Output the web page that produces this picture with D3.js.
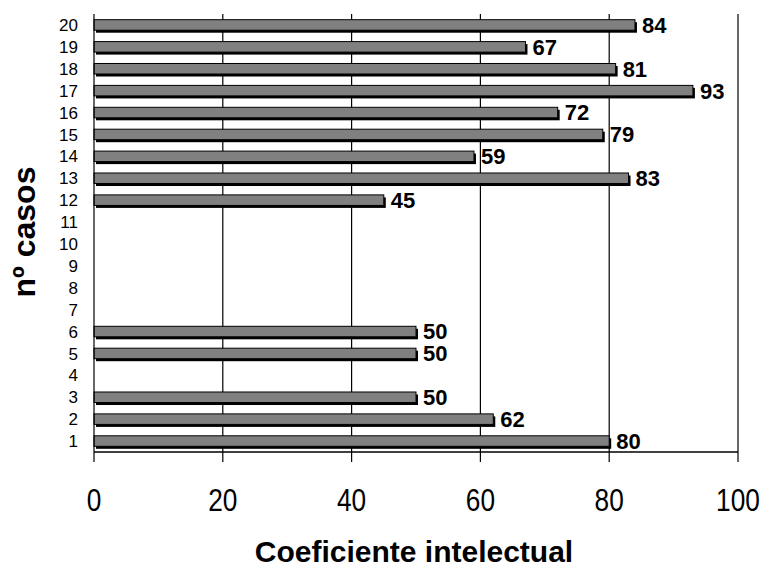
<!DOCTYPE html>
<html><head><meta charset="utf-8">
<script src="https://cdn.jsdelivr.net/npm/d3@7"></script>
<style>body{margin:0;background:#fff}svg{display:block}</style>
</head><body>
<svg id="c" width="765" height="567"></svg>
<script>
const categories = ["1","2","3","4","5","6","7","8","9","10","11","12","13","14","15","16","17","18","19","20"];
const values = [80,62,50,null,50,50,null,null,null,null,null,45,83,59,79,72,93,81,67,84];
const xTicks = [0,20,40,60,80,100];
const xTitle = "Coeficiente intelectual";
const yTitle = "nº casos";

const svg = d3.select("#c");
const L=94, R=738, T=14, B=452;
const x = d3.scaleLinear().domain([0,100]).range([L,R]);
const y = d3.scaleBand().domain(categories.slice().reverse()).range([T,B]).paddingInner(0.52).paddingOuter(0.26);
const data = categories.map((c,i)=>({c, v: values[i]})).filter(d=>d.v!=null);

// gridlines
svg.append("g").selectAll("line").data(xTicks.slice(1)).join("line")
  .attr("x1",d=>x(d)).attr("x2",d=>x(d)).attr("y1",T).attr("y2",B+10)
  .attr("stroke","#000").attr("stroke-width",1.2);

// bars: shadow then bar
const bh = y.bandwidth();
svg.append("g").selectAll("rect").data(data).join("rect")
  .attr("x",x(0)+2).attr("y",d=>y(d.c)+2.5).attr("width",d=>x(d.v)-x(0)).attr("height",bh)
  .attr("fill","#000");
svg.append("g").selectAll("rect").data(data).join("rect")
  .attr("x",x(0)).attr("y",d=>y(d.c)).attr("width",d=>x(d.v)-x(0)).attr("height",bh)
  .attr("fill","#808080").attr("stroke","#000").attr("stroke-width",1);

// value labels
svg.append("g").selectAll("text").data(data).join("text")
  .attr("x",d=>x(d.v)+7).attr("y",d=>y(d.c)+bh/2).attr("dy","0.36em")
  .attr("font-family","Liberation Sans, Arial, sans-serif").attr("font-weight","bold").attr("font-size",22)
  .text(d=>d.v);

// axes
svg.append("line").attr("x1",L).attr("x2",L).attr("y1",T).attr("y2",B+10).attr("stroke","#000").attr("stroke-width",1.2);
svg.append("line").attr("x1",L).attr("x2",R).attr("y1",B).attr("y2",B).attr("stroke","#000").attr("stroke-width",1.5);

// y labels
svg.append("g").selectAll("text").data(categories).join("text")
  .attr("x",78).attr("y",d=>y(d)+bh/2).attr("dy","0.36em").attr("text-anchor","end")
  .attr("font-family","Liberation Sans, Arial, sans-serif").attr("font-size",17)
  .text(d=>d);

// x tick labels
svg.append("g").selectAll("text").data(xTicks).join("text")
  .attr("transform",d=>`translate(${x(d)},511) scale(0.82,1)`).attr("text-anchor","middle")
  .attr("font-family","Liberation Sans, Arial, sans-serif").attr("font-size",32)
  .text(d=>d);

svg.append("text").attr("x",414).attr("y",562).attr("text-anchor","middle")
  .attr("font-family","Liberation Sans, Arial, sans-serif").attr("font-weight","bold").attr("font-size",30)
  .text(xTitle);
svg.append("text").attr("transform","translate(35,232) rotate(-90)").attr("text-anchor","middle")
  .attr("font-family","Liberation Sans, Arial, sans-serif").attr("font-weight","bold").attr("font-size",32)
  .text(yTitle);
</script>
</body></html>
